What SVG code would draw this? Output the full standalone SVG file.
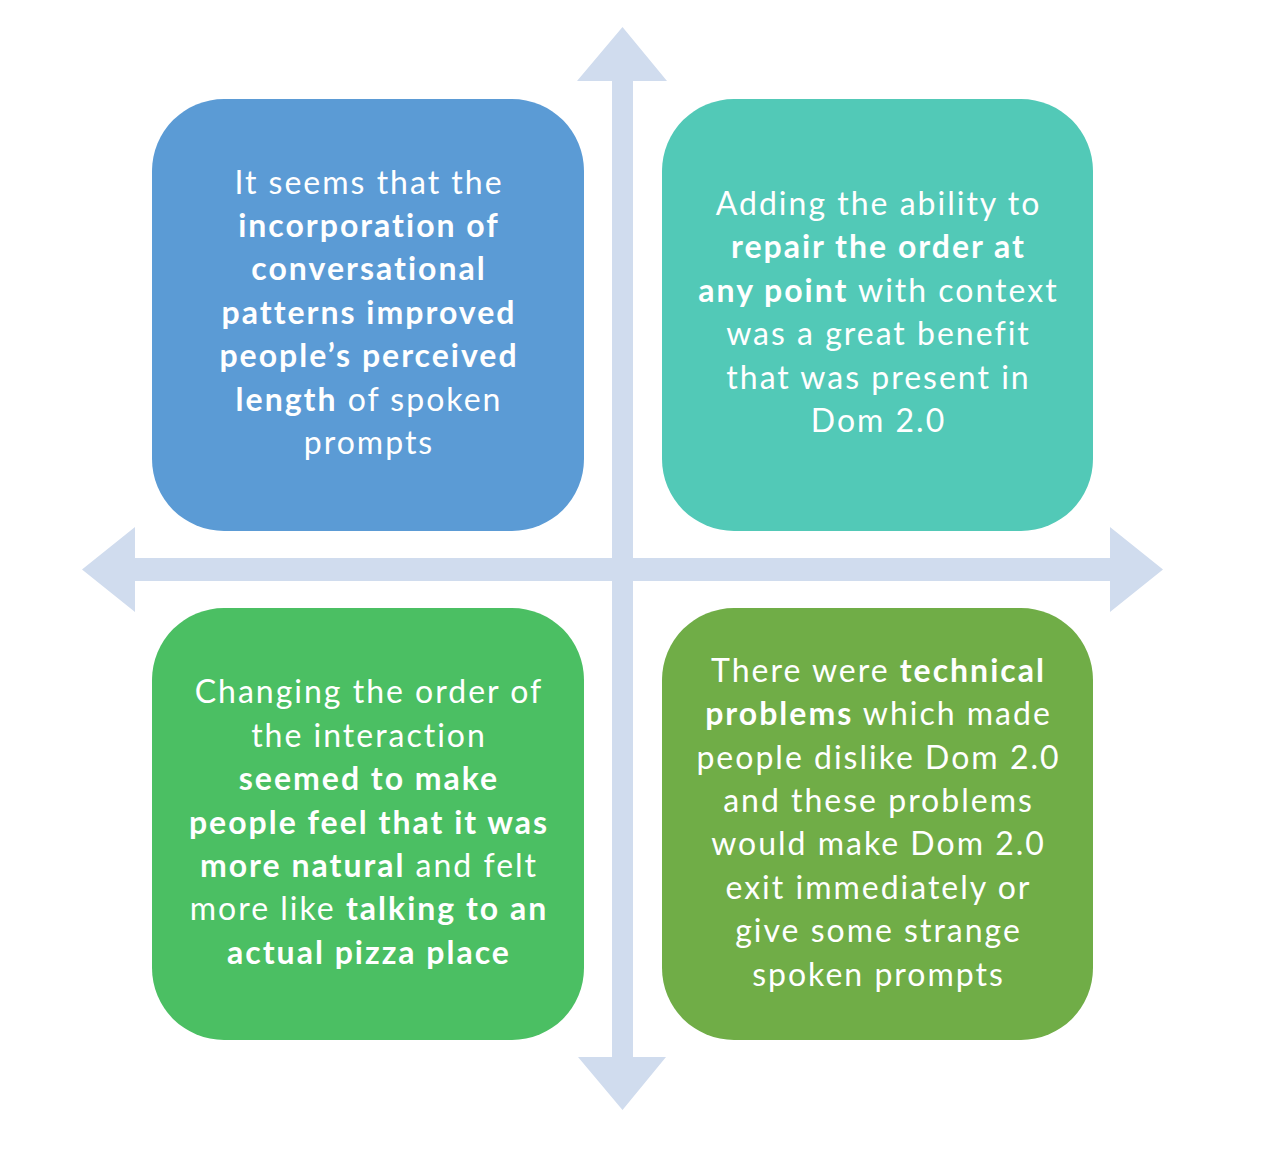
<svg xmlns="http://www.w3.org/2000/svg" width="1278" height="1159" viewBox="0 0 1278 1159">
<style>
.box text{font-family:Lato,"Liberation Sans",sans-serif;font-size:32px;letter-spacing:2px;fill:#fff;text-anchor:middle}
.b{font-weight:bold}
.arrow{fill:#D0DCEE}
</style>
<rect width="1278" height="1159" fill="#fff"/>
<g id="connectors">
<polygon class="arrow" points="612,581 612,81 577,81 622.5,27 667,81 633,81 633,558 1110,558 1110,527 1163,569.5 1110,612 1110,581 633,581 633,1057 666,1057 622.5,1110 578,1057 612,1057 612,581 135,581 135,612 82,569.5 135,527 135,558 612,558"/>
</g>
<g id="node-tl" class="box">
<rect x="152" y="99" width="432" height="432" rx="72" fill="#5B9BD5"/>
<text x="369" y="193.5">It seems that the</text>
<text x="369" y="237" class="b">incorporation of</text>
<text x="369" y="280.4" class="b">conversational</text>
<text x="369" y="323.8" class="b">patterns improved</text>
<text x="369" y="367.2" class="b">people’s perceived</text>
<text x="369" y="410.6"><tspan class="b">length</tspan> of spoken</text>
<text x="369" y="454">prompts</text>
</g>
<g id="node-tr" class="box">
<rect x="662" y="99" width="431" height="432" rx="72" fill="#52C9B7"/>
<text x="878.5" y="215">Adding the ability to</text>
<text x="878.5" y="258.4" class="b">repair the order at</text>
<text x="878.5" y="301.8"><tspan class="b">any point</tspan> with context</text>
<text x="878.5" y="345.2">was a great benefit</text>
<text x="878.5" y="388.6">that was present in</text>
<text x="878.5" y="432">Dom 2.0</text>
</g>
<g id="node-bl" class="box">
<rect x="152" y="608" width="432" height="432" rx="72" fill="#4BBF63"/>
<text x="369" y="703.3">Changing the order of</text>
<text x="369" y="746.7">the interaction</text>
<text x="369" y="790.1" class="b">seemed to make</text>
<text x="369" y="833.5" class="b">people feel that it was</text>
<text x="369" y="876.9"><tspan class="b">more natural</tspan> and felt</text>
<text x="369" y="920.3">more like <tspan class="b">talking to an</tspan></text>
<text x="369" y="963.7" class="b">actual pizza place</text>
</g>
<g id="node-br" class="box">
<rect x="662" y="608" width="431" height="432" rx="72" fill="#70AD47"/>
<text x="878.5" y="681.7">There were <tspan class="b">technical</tspan></text>
<text x="878.5" y="725.1"><tspan class="b">problems</tspan> which made</text>
<text x="878.5" y="768.5">people dislike Dom 2.0</text>
<text x="878.5" y="811.9">and these problems</text>
<text x="878.5" y="855.3">would make Dom 2.0</text>
<text x="878.5" y="898.7">exit immediately or</text>
<text x="878.5" y="942.1">give some strange</text>
<text x="878.5" y="985.5">spoken prompts</text>
</g>
</svg>
